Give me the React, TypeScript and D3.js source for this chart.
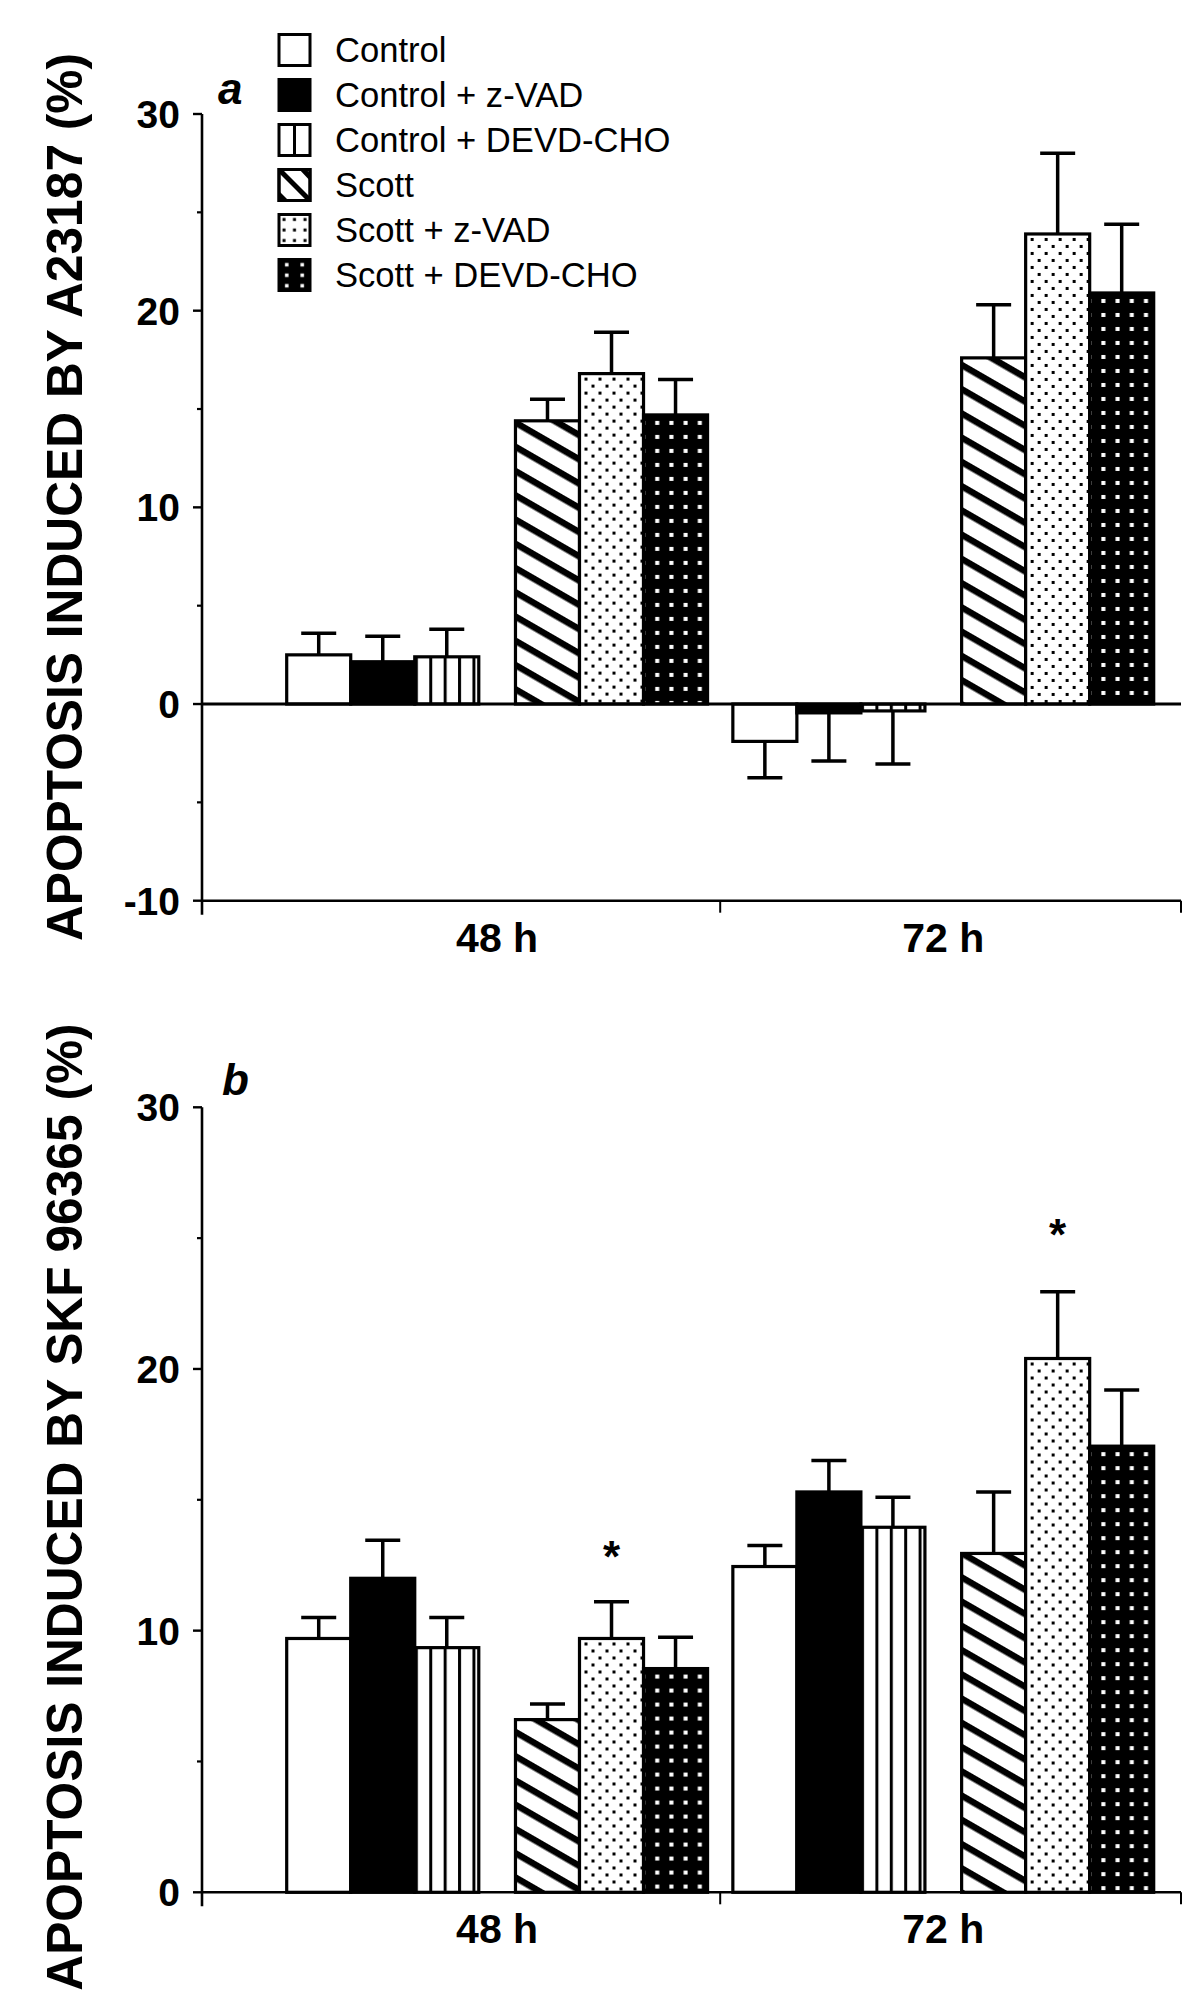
import React from "react";
import * as d3 from "d3";

const categories = ["48 h", "72 h"];
const seriesNames = [
  "Control",
  "Control + z-VAD",
  "Control + DEVD-CHO",
  "Scott",
  "Scott + z-VAD",
  "Scott + DEVD-CHO",
];
const seriesKeys = ["ctrl", "ctrlZ", "ctrlD", "scott", "scottZ", "scottD"];

// Panel a: apoptosis induced by A23187 (%)
const a48 = [2.5, 2.15, 2.4, 14.4, 16.8, 14.7];
const a48Err = [1.1, 1.3, 1.4, 1.1, 2.1, 1.8];
const a72 = [-1.9, -0.45, -0.35, 17.6, 23.9, 20.9];
const a72Err = [1.85, 2.45, 2.7, 2.7, 4.1, 3.5];
const aTicks = [-10, 0, 10, 20, 30];
const aMinor = [-5, 5, 15, 25];

// Panel b: apoptosis induced by SKF 96365 (%)
const b48 = [9.7, 12.0, 9.35, 6.6, 9.7, 8.55];
const b48Err = [0.8, 1.45, 1.15, 0.6, 1.4, 1.2];
const b72 = [12.45, 15.3, 13.95, 12.95, 20.4, 17.05];
const b72Err = [0.8, 1.2, 1.15, 2.35, 2.55, 2.15];
const bTicks = [0, 10, 20, 30];
const bMinor = [5, 15, 25];
const bStars = [
  { cat: "48 h", series: 4, value: 13.2 },
  { cat: "72 h", series: 4, value: 25.5 },
];

const FONT = "'Liberation Sans', Arial, Helvetica, sans-serif";
const AXIS_X = 202;
const AXIS_END = 1181;
const SUB_GAP = 36.7;
const SW = 3.2;

const outer = d3
  .scaleBand<string>()
  .domain(categories)
  .range([286.7, 1153.7])
  .paddingInner(0.0567)
  .paddingOuter(0);
const barW = (outer.bandwidth() - SUB_GAP) / 6;
const barX = (cat: string, i: number) =>
  (outer(cat) as number) + i * barW + (i >= 3 ? SUB_GAP : 0);

type PanelCfg = {
  id: string;
  letter: string;
  letterX: number;
  letterY: number;
  title: string;
  titleY: number;
  domain: [number, number];
  range: [number, number];
  ticks: number[];
  minor: number[];
  data: Record<string, { v: number[]; e: number[] }>;
  stars: { cat: string; series: number; value: number }[];
  zeroLine: boolean;
};

const panels: PanelCfg[] = [
  {
    id: "a",
    letter: "a",
    letterX: 218,
    letterY: 104,
    title: "APOPTOSIS INDUCED BY A23187 (%)",
    titleY: 497,
    domain: [-10, 30],
    range: [900.7, 114],
    ticks: aTicks,
    minor: aMinor,
    data: { "48 h": { v: a48, e: a48Err }, "72 h": { v: a72, e: a72Err } },
    stars: [],
    zeroLine: true,
  },
  {
    id: "b",
    letter: "b",
    letterX: 222,
    letterY: 1095,
    title: "APOPTOSIS INDUCED BY SKF 96365 (%)",
    titleY: 1507,
    domain: [0, 30],
    range: [1892.3, 1107.3],
    ticks: bTicks,
    minor: bMinor,
    data: { "48 h": { v: b48, e: b48Err }, "72 h": { v: b72, e: b72Err } },
    stars: bStars,
    zeroLine: false,
  },
];

function patternFor(key: string, id: string, x: number, y: number) {
  if (key === "ctrlD") {
    return (
      <pattern key={id} id={id} x={x + 0.1} y={y} width={14.4} height={20} patternUnits="userSpaceOnUse">
        <rect width={14.4} height={20} fill="#fff" />
        <rect x={0} y={0} width={3} height={20} fill="#000" />
      </pattern>
    );
  }
  if (key === "scott") {
    return (
      <pattern key={id} id={id} x={0} y={0} width={20} height={21} patternUnits="userSpaceOnUse" patternTransform="rotate(30)">
        <rect width={20} height={21} fill="#fff" />
        <rect x={0} y={0} width={20} height={6.5} fill="#000" />
      </pattern>
    );
  }
  if (key === "scottZ") {
    return (
      <pattern key={id} id={id} x={x} y={y} width={14} height={14} patternUnits="userSpaceOnUse">
        <rect width={14} height={14} fill="#fff" />
        <rect x={5} y={4} width={3} height={3} fill="#000" />
        <rect x={12} y={11} width={3} height={3} fill="#000" />
        <rect x={-2} y={11} width={3} height={3} fill="#000" />
      </pattern>
    );
  }
  if (key === "scottD") {
    return (
      <pattern key={id} id={id} x={x} y={y} width={14.2} height={14} patternUnits="userSpaceOnUse">
        <rect width={14.2} height={14} fill="#000" />
        <rect x={11.7} y={6} width={4} height={4} fill="#fff" />
        <rect x={-2.5} y={6} width={4} height={4} fill="#fff" />
      </pattern>
    );
  }
  return null;
}

function fillFor(key: string, id: string) {
  if (key === "ctrl") return "#fff";
  if (key === "ctrlZ") return "#000";
  return `url(#${id})`;
}

function Panel({ cfg }: { cfg: PanelCfg }) {
  const y = d3.scaleLinear().domain(cfg.domain).range(cfg.range);
  const y0 = y(Math.max(0, cfg.domain[0]));
  const yBottom = y(cfg.domain[0]);
  const yTop = y(cfg.domain[1]);
  const midTick =
    ((outer(categories[0]) as number) + outer.bandwidth() + (outer(categories[1]) as number)) / 2;

  const bars: any[] = [];
  const defs: any[] = [];
  categories.forEach((cat) => {
    const d = cfg.data[cat];
    d.v.forEach((v, i) => {
      const key = seriesKeys[i];
      const pid = `p-${cfg.id}-${cat.replace(/\s/g, "")}-${key}`;
      const x = barX(cat, i);
      const top = Math.min(y(v), y(0));
      const h = Math.abs(y(v) - y(0));
      const p = patternFor(key, pid, x, top);
      if (p) defs.push(p);
      bars.push({ cat, i, key, pid, x, top, h, v, e: d.e[i] });
    });
  });

  return (
    <g>
      <defs>{defs}</defs>
      <text
        transform={`translate(82,${cfg.titleY}) rotate(-90)`}
        textAnchor="middle"
        fontFamily={FONT}
        fontWeight="bold"
        fontSize={49.7}
        fill="#000"
      >
        {cfg.title}
      </text>
      <text x={cfg.letterX} y={cfg.letterY} fontFamily={FONT} fontWeight="bold" fontStyle="italic" fontSize={44} fill="#000">
        {cfg.letter}
      </text>
      {bars.map((b) => (
        <rect
          key={b.pid}
          x={b.x}
          y={b.top}
          width={barW}
          height={b.h}
          fill={fillFor(b.key, b.pid)}
          stroke="#000"
          strokeWidth={SW}
        />
      ))}
      {bars.map((b) => {
        const cx = b.x + barW / 2;
        const yv = y(b.v);
        const ye = b.v >= 0 ? y(b.v + b.e) : y(b.v - b.e);
        return (
          <g key={`e-${b.pid}`} stroke="#000" strokeWidth={3.5}>
            <line x1={cx} x2={cx} y1={yv} y2={ye} />
            <line x1={cx - 17.5} x2={cx + 17.5} y1={ye} y2={ye} />
          </g>
        );
      })}
      {cfg.stars.map((s, k) => (
        <text
          key={`s-${k}`}
          x={barX(s.cat, s.series) + barW / 2}
          y={y(s.value) + 25}
          textAnchor="middle"
          fontFamily={FONT}
          fontWeight="bold"
          fontSize={44}
          fill="#000"
        >
          *
        </text>
      ))}
      {cfg.zeroLine && (
        <line x1={AXIS_X} x2={AXIS_END} y1={y0} y2={y0} stroke="#000" strokeWidth={3} />
      )}
      <line x1={AXIS_X} x2={AXIS_END} y1={yBottom} y2={yBottom} stroke="#000" strokeWidth={2.6} />
      <line x1={midTick} x2={midTick} y1={yBottom} y2={yBottom + 12} stroke="#000" strokeWidth={2} />
      <line x1={AXIS_END} x2={AXIS_END} y1={yBottom} y2={yBottom + 12} stroke="#000" strokeWidth={2} />
      <line x1={AXIS_X} x2={AXIS_X} y1={yTop} y2={yBottom + 14} stroke="#000" strokeWidth={2.6} />
      {cfg.ticks.map((t) => (
        <g key={`t-${t}`}>
          <line x1={AXIS_X - 9} x2={AXIS_X} y1={y(t)} y2={y(t)} stroke="#000" strokeWidth={2.4} />
          <text
            x={180}
            y={y(t)}
            dy="0.36em"
            textAnchor="end"
            fontFamily={FONT}
            fontWeight="bold"
            fontSize={39}
            fill="#000"
          >
            {t < 0 ? `-${Math.abs(t)}` : `${t}`}
          </text>
        </g>
      ))}
      {cfg.minor.map((t) => (
        <line key={`m-${t}`} x1={AXIS_X - 5} x2={AXIS_X} y1={y(t)} y2={y(t)} stroke="#000" strokeWidth={2.2} />
      ))}
      {categories.map((c) => (
        <text
          key={`c-${c}`}
          x={(outer(c) as number) + outer.bandwidth() / 2}
          y={yBottom + 51}
          textAnchor="middle"
          fontFamily={FONT}
          fontWeight="bold"
          fontSize={41}
          fill="#000"
        >
          {c}
        </text>
      ))}
    </g>
  );
}

function Legend() {
  const bx = 279;
  const bs = 31;
  const rowY = d3.scaleLinear().domain([0, 5]).range([50, 275]);
  return (
    <g>
      <defs>
        <clipPath id="lg-clip-scott">
          <rect x={bx} y={rowY(3) - bs / 2} width={bs} height={bs} />
        </clipPath>
        <pattern id="lg-dotsZ" x={bx} y={rowY(4) - bs / 2} width={10.5} height={10.5} patternUnits="userSpaceOnUse">
          <rect width={10.5} height={10.5} fill="#fff" />
          <rect x={3.5} y={3.5} width={3} height={3} fill="#000" />
        </pattern>
        <pattern id="lg-dotsD" x={bx} y={rowY(5) - bs / 2} width={15.5} height={10.5} patternUnits="userSpaceOnUse">
          <rect width={15.5} height={10.5} fill="#000" />
          <rect x={6} y={3.5} width={3.5} height={3.5} fill="#fff" />
        </pattern>
      </defs>
      {seriesNames.map((name, i) => {
        const cy = rowY(i);
        const top = cy - bs / 2;
        const key = seriesKeys[i];
        let fill = "#fff";
        if (key === "ctrlZ") fill = "#000";
        if (key === "scottZ") fill = "url(#lg-dotsZ)";
        if (key === "scottD") fill = "url(#lg-dotsD)";
        return (
          <g key={key}>
            <rect x={bx} y={top} width={bs} height={bs} fill={fill} stroke="#000" strokeWidth={3} />
            {key === "ctrlD" && (
              <line x1={bx + bs / 2} x2={bx + bs / 2} y1={top} y2={top + bs} stroke="#000" strokeWidth={3} />
            )}
            {key === "scott" && (
              <g clipPath="url(#lg-clip-scott)" stroke="#000" strokeWidth={5}>
                <line x1={bx} y1={top} x2={bx + bs} y2={top + bs} />
                <line x1={bx + 22} y1={top - 2} x2={bx + bs + 4} y2={top + 12} />
                <line x1={bx - 4} y1={top + 21} x2={bx + 10} y2={top + bs + 4} />
              </g>
            )}
            {key === "scott" && (
              <rect x={bx} y={top} width={bs} height={bs} fill="none" stroke="#000" strokeWidth={3} />
            )}
            <text x={335} y={cy + 12} fontFamily={FONT} fontSize={34.6} fill="#000">
              {name}
            </text>
          </g>
        );
      })}
    </g>
  );
}

export default function App() {
  return (
    <svg
      width={1198}
      height={2003}
      viewBox="0 0 1198 2003"
      style={{ position: "absolute", left: 0, top: 0, display: "block" }}
    >
      <rect width={1198} height={2003} fill="#fff" />
      {panels.map((p) => (
        <Panel key={p.id} cfg={p} />
      ))}
      <Legend />
    </svg>
  );
}
